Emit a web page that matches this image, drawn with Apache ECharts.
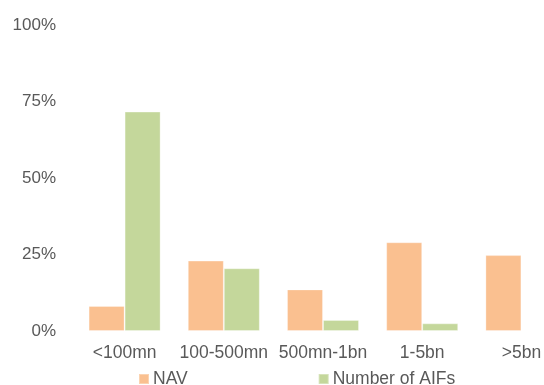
<!DOCTYPE html>
<html>
<head>
<meta charset="utf-8">
<script src="https://cdn.jsdelivr.net/npm/echarts@6/dist/echarts.min.js"></script>
<style>
  html, body { margin: 0; padding: 0; background: #ffffff; overflow: hidden; }
  #chart { width: 571px; height: 385px; }
</style>
</head>
<body>
<div id="chart"></div>
<script>
// Fund size buckets
const categories = ['<100mn', '100-500mn', '500mn-1bn', '1-5bn', '>5bn'];
// Share of total NAV per bucket (%)
const navShare = [8.2, 23.0, 13.6, 29.0, 24.8];
// Share of the number of AIFs per bucket (%)
const aifShare = [71.7, 20.5, 3.6, 2.5, 0.3];
// Value axis ticks (%)
const yTicks = [0, 25, 50, 75, 100];

const textColor = '#595959';
const font = 'Liberation Sans, Arial, sans-serif';

const chart = echarts.init(document.getElementById('chart'), null, { renderer: 'canvas' });
chart.setOption({
  animation: false,
  backgroundColor: '#ffffff',
  grid: { left: 75, right: 0, top: 25, bottom: 54, containLabel: false },
  legend: {
    top: 370,
    left: 138,
    padding: 0,
    itemWidth: 10,
    itemHeight: 10,
    itemGap: 130,
    icon: 'rect',
    textStyle: { color: textColor, fontSize: 17.5, fontFamily: font, padding: [0, 0, 0, -1] },
    data: ['NAV', 'Number of AIFs']
  },
  xAxis: {
    type: 'category',
    data: categories,
    axisLine: { show: false },
    axisTick: { show: false },
    axisLabel: { color: textColor, fontSize: 17.5, fontFamily: font, margin: 13, interval: 0 }
  },
  yAxis: {
    type: 'value',
    min: yTicks[0],
    max: yTicks[yTicks.length - 1],
    interval: 25,
    splitLine: { show: false },
    axisLine: { show: false },
    axisTick: { show: false },
    axisLabel: { color: textColor, fontSize: 17, fontFamily: font, margin: 19, formatter: '{value}%' }
  },
  series: [
    {
      name: 'NAV',
      type: 'bar',
      data: navShare,
      barWidth: 36,
      barGap: '0%',
      itemStyle: { color: '#FAC090', borderColor: 'rgba(255,255,255,0.3)', borderWidth: 1 }
    },
    {
      name: 'Number of AIFs',
      type: 'bar',
      data: aifShare,
      barWidth: 36,
      barGap: '0%',
      itemStyle: { color: '#C4D79B', borderColor: 'rgba(255,255,255,0.3)', borderWidth: 1 }
    }
  ]
});
</script>
</body>
</html>
